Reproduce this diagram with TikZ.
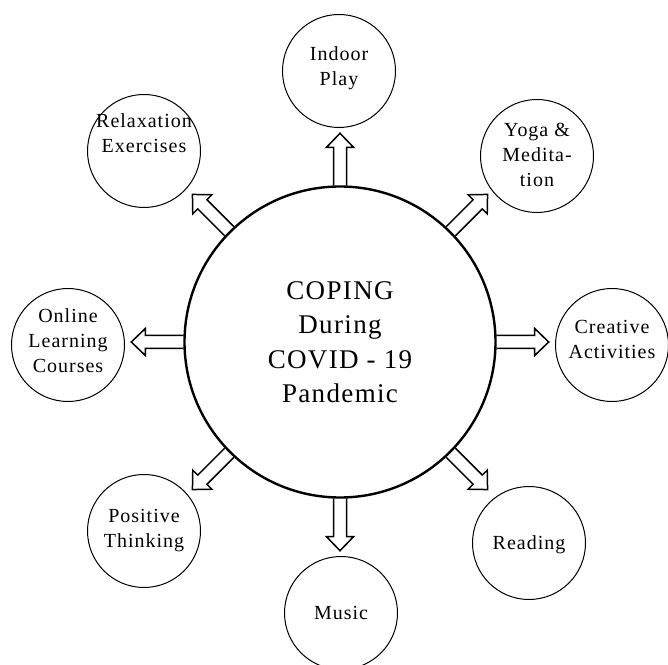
\documentclass[tikz,border=0pt]{standalone}
\usepackage{fontspec}
\setmainfont{Liberation Serif}[LetterSpace=5]

\tikzset{
    leaf/.style={draw, circle, line width=1pt, minimum size=113pt, inner sep=0pt},
    leaftext/.style={align=center, inner sep=0pt, font=\fontsize{20}{25}\selectfont},
    hollowarrow/.pic={\draw[line width=1.5pt, line join=miter] (0,-6.5) -- (38,-6.5) -- (38,-13.5) -- (52,0) -- (38,13.5) -- (38,6.5) -- (0,6.5);}
}

\begin{document}
\begin{tikzpicture}[x=1pt, y=1pt]
    \useasboundingbox (0,0) rectangle (668,664);
    \clip (0,0) rectangle (668,664);
    \node[draw, circle, line width=2.4pt, minimum size=311pt, inner sep=0pt] (core) at (340,322) {};
    \node[align=center, inner sep=0pt, font=\fontsize{27}{34.5}\selectfont] (coretext) at (340,322) {COPING\\During\\COVID - 19\\Pandemic};
    \node[leaf] (indoor) at (339,593) {};
    \node[leaf] (yoga) at (537,508) {};
    \node[leaf] (creative) at (612,319) {};
    \node[leaf] (reading) at (529,121) {};
    \node[leaf] (music) at (341,51) {};
    \node[leaf] (positive) at (144,133) {};
    \node[leaf] (online) at (68,319) {};
    \node[leaf] (relax) at (144,513) {};
    \node[leaftext] (indoortext) at (339,596) {Indoor\\Play};
    \node[leaftext] (yogatext) at (537,509) {Yoga \&\\Medita-\\tion};
    \node[leaftext] (creativetext) at (612,325) {Creative\\Activities};
    \node[leaftext] (readingtext) at (529,119) {Reading};
    \node[leaftext] (musictext) at (341,51) {Music};
    \node[leaftext] (positivetext) at (144,133) {Positive\\Thinking};
    \node[leaftext] (onlinetext) at (68,323) {Online\\Learning\\Courses};
    \node[leaftext] (relaxtext) at (144,531) {Relaxation\\Exercises};
    \pic[rotate=90] at (core.90) {hollowarrow};
    \pic[rotate=45] at (core.45) {hollowarrow};
    \pic[rotate=0] at (core.0) {hollowarrow};
    \pic[rotate=-45] at (core.-45) {hollowarrow};
    \pic[rotate=-90] at (core.-90) {hollowarrow};
    \pic[rotate=-135] at (core.-135) {hollowarrow};
    \pic[rotate=180] at (core.180) {hollowarrow};
    \pic[rotate=135] at (core.135) {hollowarrow};
\end{tikzpicture}
\end{document}
